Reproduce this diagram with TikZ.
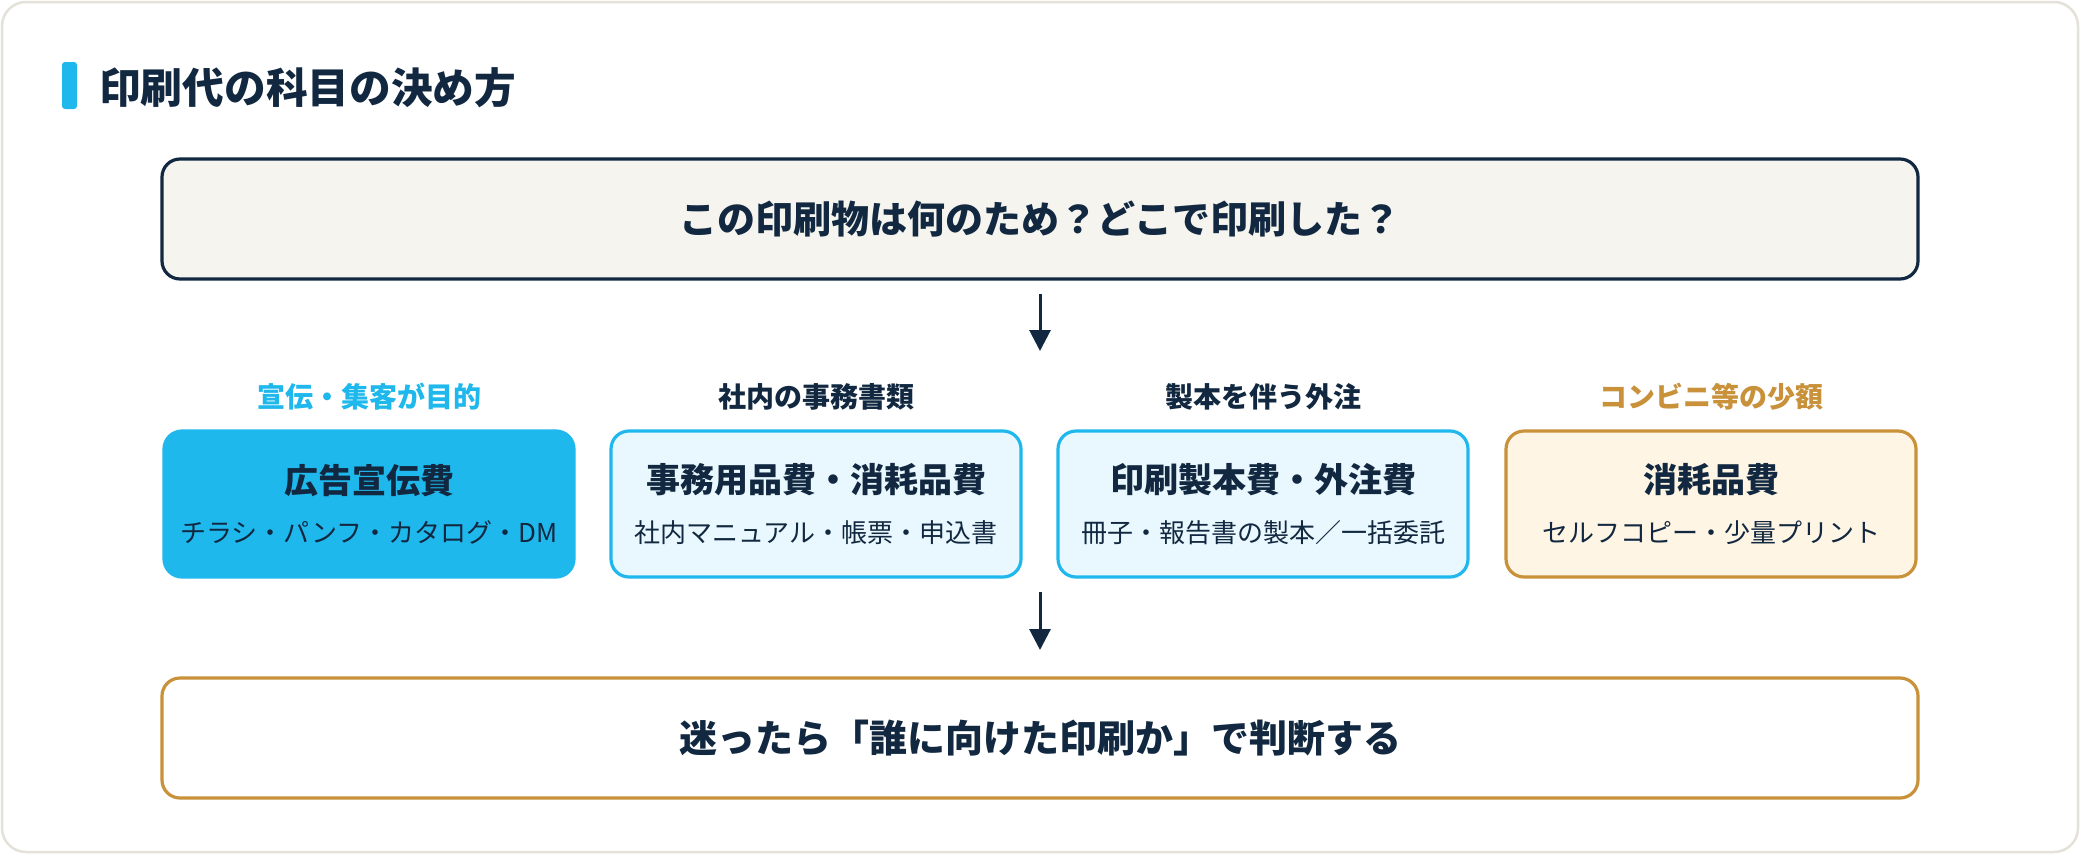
\documentclass[tikz,border=0pt]{standalone}
\usepackage{fontspec}
\newfontfamily\jp{Noto Sans CJK JP}
\usetikzlibrary{arrows.meta}
\definecolor{navy}{HTML}{112840}
\definecolor{skyb}{HTML}{1FB8EC}
\definecolor{skyl}{HTML}{E9F8FE}
\definecolor{gold}{HTML}{C8913A}
\definecolor{cream}{HTML}{FFF5E4}
\definecolor{paper}{HTML}{F5F4EF}
\definecolor{cardline}{HTML}{E4E2D8}
\tikzset{
  card/.style={draw=cardline, line width=2.5pt, fill=white, rounded corners=24pt},
  bigbox/.style={rounded corners=18pt, line width=3.2pt, minimum width=1756pt, minimum height=120pt, inner sep=0pt, text=navy, font=\jp\bfseries\fontsize{38}{46}\selectfont},
  catbox/.style={rounded corners=18pt, line width=3.2pt, minimum width=410pt, minimum height=146pt, inner sep=0pt, text=navy, align=center},
  lbl/.style={font=\jp\bfseries\fontsize{28}{34}\selectfont, inner sep=0pt},
  arr/.style={draw=navy, line width=3pt, -{Triangle[length=21pt,width=21pt]}},
}
\newcommand{\cattitle}[1]{{\bfseries\fontsize{34}{41}\selectfont #1}}
\newcommand{\catsub}[1]{{\fontsize{26}{32}\selectfont #1}}
\begin{document}
\begin{tikzpicture}[x=1pt,y=-1pt]
\useasboundingbox (0,0) rectangle (2080,854);
\fill[white] (0,0) rectangle (2080,854);
\draw[card] (2,2) rectangle (2078,852);
% title
\fill[skyb, rounded corners=3pt] (62,62) rectangle (77,109);
\node[anchor=west, inner sep=0pt, text=navy, font=\jp\bfseries\fontsize{41.7}{50}\selectfont] (title) at (99,88) {印刷代の科目の決め方};
% question box
\node[bigbox, draw=navy, fill=paper] (q) at (1040,219) {この印刷物は何のため？どこで印刷した？};
\coordinate (a1s) at (1040,294);
\coordinate (a1e) at (1040,351);
\draw[arr] (a1s) -- (a1e);
% labels
\node[lbl, text=skyb] (l1) at (369,397) {宣伝・集客が目的};
\node[lbl, text=navy] (l2) at (816,397) {社内の事務書類};
\node[lbl, text=navy] (l3) at (1263,397) {製本を伴う外注};
\node[lbl, text=gold] (l4) at (1711,397) {コンビニ等の少額};
% category boxes
\node[catbox, draw=skyb, fill=skyb, font=\jp] (c1) at (369,504) {\cattitle{広告宣伝費}\\[23pt]\catsub{チラシ・パンフ・カタログ・DM}};
\node[catbox, draw=skyb, fill=skyl, font=\jp] (c2) at (816,504) {\cattitle{事務用品費・消耗品費}\\[23pt]\catsub{社内マニュアル・帳票・申込書}};
\node[catbox, draw=skyb, fill=skyl, font=\jp] (c3) at (1263,504) {\cattitle{印刷製本費・外注費}\\[23pt]\catsub{冊子・報告書の製本／一括委託}};
\node[catbox, draw=gold, fill=cream, font=\jp] (c4) at (1711,504) {\cattitle{消耗品費}\\[23pt]\catsub{セルフコピー・少量プリント}};
\coordinate (a2s) at (1040,592);
\coordinate (a2e) at (1040,650);
\draw[arr] (a2s) -- (a2e);
% conclusion box
\node[bigbox, draw=gold, fill=white] (r) at (1040,738) {迷ったら「誰に向けた印刷か」で判断する};
\end{tikzpicture}
\end{document}
